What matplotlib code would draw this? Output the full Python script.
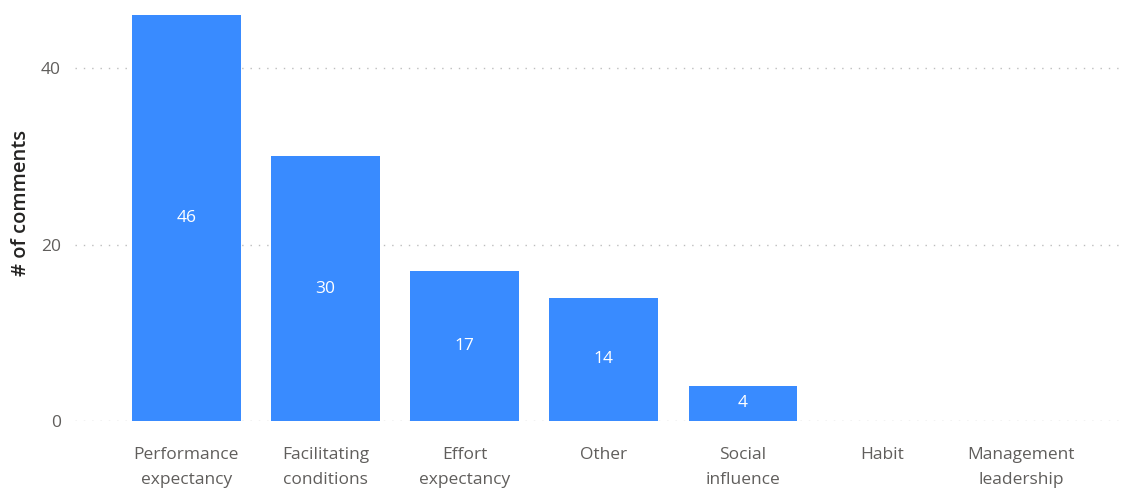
import matplotlib
matplotlib.use("Agg")
import matplotlib.pyplot as plt

plt.rcParams['font.family'] = ['Open Sans', 'DejaVu Sans']

# комментарии по категориям
categories = ["Performance\nexpectancy", "Facilitating\nconditions", "Effort\nexpectancy",
              "Other", "Social\ninfluence", "Habit", "Management\nleadership"]
counts = [46, 30, 17, 14, 4, 0, 0]
yticks = [0, 20, 40]

fig = plt.figure(figsize=(11.25, 4.92), dpi=100)
ax = fig.add_axes([75/1125, 71/492, 1045/1125, 419/492])

x = range(len(categories))
bars = ax.bar(x, counts, width=0.78, color="#398BFF", zorder=2)

# подписи значений внутри столбцов
for b, v in zip(bars, counts):
    if v > 0:
        ax.text(b.get_x() + b.get_width()/2, v/2, str(v), ha="center", va="center",
                color="white", fontsize=12.5)

ax.set_xlim(-0.8, 6.71)
ax.set_ylim(0, 47.5)
ax.set_yticks(yticks)
ax.set_xticks(list(x))
ax.set_xticklabels(categories, fontsize=12.5, color="#605E5C", linespacing=1.75)
ax.tick_params(axis="y", labelsize=12.5, labelcolor="#605E5C", length=0, pad=10)
ax.tick_params(axis="x", length=0, pad=19)
ax.yaxis.grid(True, linestyle=(0, (1, 5)), color="#BDBDBD", linewidth=1, zorder=0)
for s in ax.spines.values():
    s.set_visible(False)
ax.set_ylabel("# of comments", fontsize=14.5, color="#252423", fontweight="semibold")
ax.yaxis.set_label_coords(-0.042, 0.52)

fig.savefig("out.png", dpi=100)
